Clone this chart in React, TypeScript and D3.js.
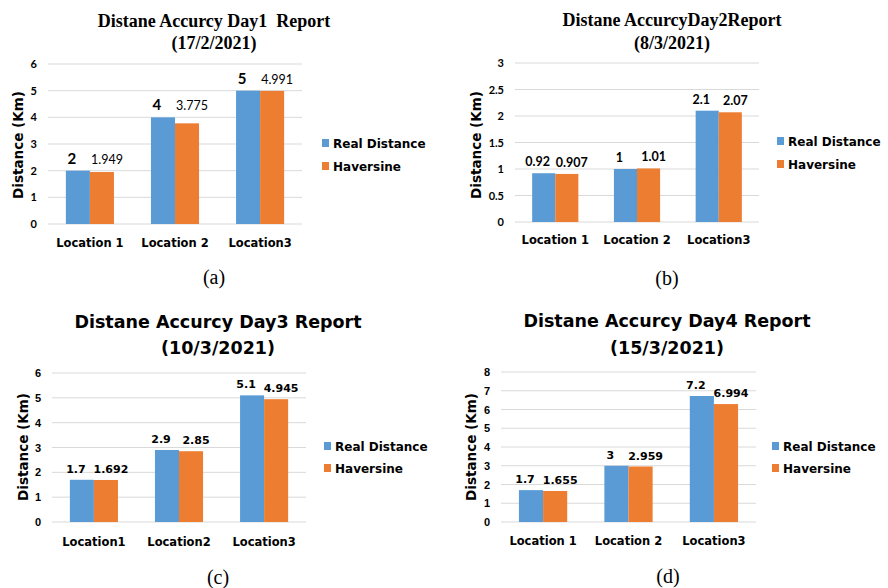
import { useEffect, useRef } from "react";
import * as d3 from "d3";

const seriesNames = ["Real Distance", "Haversine"];
const colors = ["#5B9BD5", "#ED7D31"];

const locationsSpaced = ["Location 1", "Location 2", "Location3"];
const locationsTight = ["Location1", "Location2", "Location3"];

const realDay1 = [2, 4, 5];
const haversineDay1 = [1.949, 3.775, 4.991];
const realDay2 = [0.92, 1, 2.1];
const haversineDay2 = [0.907, 1.01, 2.07];
const realDay3 = [1.7, 2.9, 5.1];
const haversineDay3 = [1.692, 2.85, 4.945];
// day 4: bar heights as drawn in the figure, labels as printed
const realDay4 = [1.7, 3, 6.72];
const haversineDay4 = [1.655, 2.959, 6.29];
const realLabelsDay4 = ["1.7", "3", "7.2"];
const haversineLabelsDay4 = ["1.655", "2.959", "6.994"];

const ticksDay1 = [0, 1, 2, 3, 4, 5, 6];
const ticksDay2 = [0, 0.5, 1, 1.5, 2, 2.5, 3];
const ticksDay3 = [0, 1, 2, 3, 4, 5, 6];
const ticksDay4 = [0, 1, 2, 3, 4, 5, 6, 7, 8];

const SERIF = "'Liberation Serif', 'Times New Roman', serif";
const SANS = "'Liberation Sans', Arial, sans-serif";
const HEAVY = "'DejaVu Sans', Verdana, sans-serif";
const LATO = "Lato, 'Liberation Sans', sans-serif";

type Panel = {
  title: string[];
  serifTitle: boolean;
  titleX: number;
  titleY: number[];
  categories: string[];
  real: number[];
  haversine: number[];
  realLabels: string[];
  haversineLabels: string[];
  ticks: number[];
  left: number;
  right: number;
  top: number;
  bottom: number;
  catY: number;
  legendX: number;
  legendY: number[];
  yLabelX: number;
  yLabelY: number;
  caption: string;
  captionX: number;
  captionY: number;
  tickFont: string;
  valueFont: string;
  groupLabels: boolean;
  bigRealLabels: boolean;
};

const fmt = (v: number) => String(v);

const panels: Panel[] = [
  {
    title: ["Distane Accurcy Day1  Report", "(17/2/2021)"],
    serifTitle: true,
    titleX: 214,
    titleY: [27, 49],
    categories: locationsSpaced,
    real: realDay1,
    haversine: haversineDay1,
    realLabels: realDay1.map(fmt),
    haversineLabels: haversineDay1.map(fmt),
    ticks: ticksDay1,
    left: 48,
    right: 302,
    top: 64,
    bottom: 224,
    catY: 247,
    legendX: 322,
    legendY: [143, 166],
    yLabelX: 18,
    yLabelY: 145,
    caption: "(a)",
    captionX: 214,
    captionY: 284,
    tickFont: LATO,
    valueFont: LATO,
    groupLabels: true,
    bigRealLabels: true,
  },
  {
    title: ["Distane AccurcyDay2Report", "(8/3/2021)"],
    serifTitle: true,
    titleX: 672,
    titleY: [26, 49],
    categories: locationsSpaced,
    real: realDay2,
    haversine: haversineDay2,
    realLabels: realDay2.map(fmt),
    haversineLabels: haversineDay2.map(fmt),
    ticks: ticksDay2,
    left: 515,
    right: 759,
    top: 63,
    bottom: 222,
    catY: 244,
    legendX: 777,
    legendY: [141, 164],
    yLabelX: 476,
    yLabelY: 145,
    caption: "(b)",
    captionX: 667,
    captionY: 285,
    tickFont: LATO,
    valueFont: LATO,
    groupLabels: false,
    bigRealLabels: false,
  },
  {
    title: ["Distane Accurcy Day3 Report", "(10/3/2021)"],
    serifTitle: false,
    titleX: 218,
    titleY: [328, 354],
    categories: locationsTight,
    real: realDay3,
    haversine: haversineDay3,
    realLabels: realDay3.map(fmt),
    haversineLabels: haversineDay3.map(fmt),
    ticks: ticksDay3,
    left: 52,
    right: 306,
    top: 373,
    bottom: 522,
    catY: 546,
    legendX: 324,
    legendY: [446, 468],
    yLabelX: 23,
    yLabelY: 447,
    caption: "(c)",
    captionX: 218,
    captionY: 584,
    tickFont: SANS,
    valueFont: HEAVY,
    groupLabels: false,
    bigRealLabels: false,
  },
  {
    title: ["Distane Accurcy Day4 Report", "(15/3/2021)"],
    serifTitle: false,
    titleX: 667,
    titleY: [327, 354],
    categories: locationsSpaced,
    real: realDay4,
    haversine: haversineDay4,
    realLabels: realLabelsDay4,
    haversineLabels: haversineLabelsDay4,
    ticks: ticksDay4,
    left: 501,
    right: 756,
    top: 372,
    bottom: 522,
    catY: 545,
    legendX: 772,
    legendY: [446, 468],
    yLabelX: 471,
    yLabelY: 447,
    caption: "(d)",
    captionX: 668,
    captionY: 583,
    tickFont: SANS,
    valueFont: HEAVY,
    groupLabels: false,
    bigRealLabels: false,
  },
];

const App = () => {
  const chartRef = useRef<SVGSVGElement | null>(null);

  useEffect(() => {
    document.body.style.margin = "0";
    if (!chartRef.current) return;
    const svg = d3.select(chartRef.current);
    svg.selectAll("*").remove();

    svg
      .append("rect")
      .attr("width", 888)
      .attr("height", 588)
      .attr("fill", "#ffffff");

    panels.forEach((p) => {
      const g = svg.append("g");

      // title
      p.title.forEach((line, i) => {
        g.append("text")
          .attr("x", p.titleX)
          .attr("y", p.titleY[i])
          .attr("text-anchor", "middle")
          .style("font-family", p.serifTitle ? SERIF : HEAVY)
          .style("font-weight", "bold")
          .style("font-size", p.serifTitle ? "18px" : "17.5px")
          .style("white-space", "pre")
          .attr("fill", "#000")
          .text(line);
      });

      const maxTick = p.ticks[p.ticks.length - 1];
      const yScale = d3
        .scaleLinear()
        .domain([0, maxTick])
        .range([p.bottom, p.top]);

      const xScale = d3
        .scaleBand()
        .domain(p.categories)
        .range([p.left, p.right])
        .paddingInner(0.435)
        .paddingOuter(0.21);

      const sub = d3
        .scaleBand()
        .domain(seriesNames)
        .range([0, xScale.bandwidth()]);

      // gridlines
      g.append("g")
        .selectAll("line")
        .data(p.ticks)
        .join("line")
        .attr("x1", p.left)
        .attr("x2", p.right)
        .attr("y1", (d) => yScale(d))
        .attr("y2", (d) => yScale(d))
        .attr("stroke", "#D9D9D9")
        .attr("stroke-width", 1);

      // y tick labels
      g.append("g")
        .selectAll("text")
        .data(p.ticks)
        .join("text")
        .attr("x", p.left - 11)
        .attr("y", (d) => yScale(d) + 4)
        .attr("text-anchor", "end")
        .style("font-family", p.tickFont)
        .style("font-weight", "bold")
        .style("font-size", "11px")
        .attr("fill", "#000")
        .text((d) => String(d));

      // y axis label
      g.append("text")
        .attr(
          "transform",
          `translate(${p.yLabelX + 5},${p.yLabelY}) rotate(-90)`
        )
        .attr("text-anchor", "middle")
        .style("font-family", HEAVY)
        .style("font-weight", "bold")
        .style("font-size", "13.5px")
        .attr("fill", "#000")
        .text("Distance (Km)");

      const rows = p.categories.map((c, i) => ({
        cat: c,
        values: [p.real[i], p.haversine[i]],
        labels: [p.realLabels[i], p.haversineLabels[i]],
      }));

      // bars
      const groups = g
        .append("g")
        .selectAll("g")
        .data(rows)
        .join("g")
        .attr("transform", (d) => `translate(${xScale(d.cat)},0)`);

      groups
        .selectAll("rect")
        .data((d) => d.values.map((v, k) => ({ v, k })))
        .join("rect")
        .attr("x", (d) => sub(seriesNames[d.k]) as number)
        .attr("width", sub.bandwidth())
        .attr("y", (d) => yScale(d.v))
        .attr("height", (d) => p.bottom - yScale(d.v))
        .attr("fill", (d) => colors[d.k]);

      // value labels
      groups
        .selectAll("text")
        .data((d) =>
          d.values.map((v, k) => ({
            v: p.groupLabels ? Math.max(...d.values) : v,
            k,
            label: d.labels[k],
          }))
        )
        .join("text")
        .attr(
          "x",
          (d) =>
            (sub(seriesNames[d.k]) as number) +
            sub.bandwidth() / 2 +
            (d.k === 0 ? -6 : 5)
        )
        .attr("y", (d) => yScale(d.v) - 7)
        .attr("text-anchor", "middle")
        .style("font-family", p.valueFont)
        .style("font-size", (d) =>
          p.bigRealLabels && d.k === 0
            ? "15px"
            : p.valueFont === HEAVY
            ? "11px"
            : "12.5px"
        )
        .style("font-weight", (d) =>
          p.bigRealLabels ? (d.k === 0 ? "bold" : "normal") : "bold"
        )
        .attr("fill", "#000")
        .text((d) => d.label);

      // category labels
      g.append("g")
        .selectAll("text")
        .data(p.categories)
        .join("text")
        .attr("x", (d) => (xScale(d) as number) + xScale.bandwidth() / 2)
        .attr("y", p.catY)
        .attr("text-anchor", "middle")
        .style("font-family", HEAVY)
        .style("font-weight", "bold")
        .style("font-size", "11.5px")
        .attr("fill", "#000")
        .text((d) => d);

      // legend
      const legend = g
        .append("g")
        .selectAll("g")
        .data(seriesNames)
        .join("g")
        .attr("transform", (_d, i) => `translate(${p.legendX},${p.legendY[i]})`);
      legend
        .append("rect")
        .attr("x", 0)
        .attr("y", -4)
        .attr("width", 7)
        .attr("height", 8)
        .attr("fill", (_d, i) => colors[i]);
      legend
        .append("text")
        .attr("x", 11)
        .attr("y", 4.5)
        .style("font-family", HEAVY)
        .style("font-weight", "bold")
        .style("font-size", "12px")
        .attr("fill", "#000")
        .text((d) => d);

      // caption
      g.append("text")
        .attr("x", p.captionX)
        .attr("y", p.captionY)
        .attr("text-anchor", "middle")
        .style("font-family", SERIF)
        .style("font-size", "20px")
        .attr("fill", "#000")
        .text(p.caption);
    });
  }, []);

  return (
    <svg
      ref={chartRef}
      width={888}
      height={588}
      style={{ display: "block", position: "absolute", left: 0, top: 0 }}
    />
  );
};

export default App;
